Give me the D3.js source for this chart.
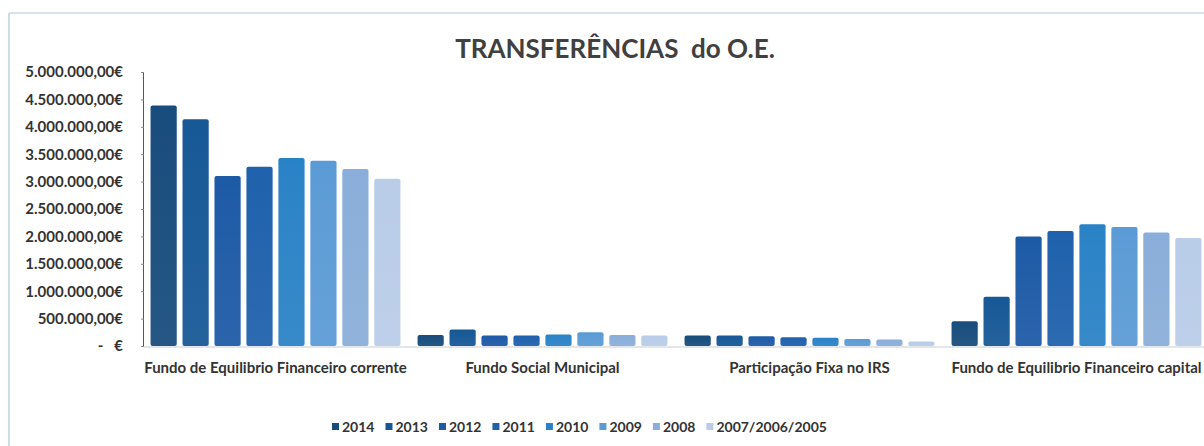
<!DOCTYPE html>
<html>
<head>
<meta charset="utf-8">
<script src="https://cdn.jsdelivr.net/npm/d3@7"></script>
<style>
  body { margin: 0; background: #fff; }
  svg { display: block; font-family: Lato, "Open Sans", sans-serif; }
</style>
</head>
<body>
<svg id="chart"></svg>
<script>
// categorie e serie (valori in euro)
const categories = [
    "Fundo de Equilibrio Financeiro corrente",
    "Fundo Social Municipal",
    "Participação Fixa no IRS",
    "Fundo de Equilibrio Financeiro capital"
];
const years = ["2014", "2013", "2012", "2011", "2010", "2009", "2008", "2007/2006/2005"];

const s2014 = [4390000, 200000, 190000, 450000];
const s2013 = [4140000, 300000, 190000, 900000];
const s2012 = [3100000, 190000, 180000, 2000000];
const s2011 = [3270000, 190000, 160000, 2100000];
const s2010 = [3430000, 210000, 150000, 2220000];
const s2009 = [3380000, 250000, 130000, 2170000];
const s2008 = [3230000, 200000, 120000, 2070000];
const s2007 = [3050000, 190000, 80000, 1970000];
const seriesValues = [s2014, s2013, s2012, s2011, s2010, s2009, s2008, s2007];

const yTicks = [0, 500000, 1000000, 1500000, 2000000, 2500000, 3000000, 3500000, 4000000, 4500000, 5000000];
const barColors = ["#184c7c", "#165896", "#1d5aa6", "#1f61ac", "#2a82c6", "#5b9bd5", "#8aaed9", "#b9cce8"];

const width = 1204, height = 446;
const svg = d3.select("#chart").attr("width", width).attr("height", height);

// cornice leggera
svg.append("line").attr("x1", 9).attr("x2", 9).attr("y1", 13).attr("y2", height)
    .attr("stroke", "#c9dcea").attr("stroke-width", 2);
svg.append("line").attr("x1", 9).attr("x2", width).attr("y1", 13).attr("y2", 13)
    .attr("stroke", "#d3e3ee").attr("stroke-width", 2);

const x0 = d3.scaleBand().domain(categories).range([142, 1210]).paddingInner(0.064).paddingOuter(0.032);
const x1 = d3.scaleBand().domain(years).range([0, x0.bandwidth()]).paddingInner(0.18);
const y = d3.scaleLinear().domain([0, 5000000]).range([346, 72]);

const euro = d3.formatLocale({ decimal: ",", thousands: ".", grouping: [3], currency: ["", "€"] });
const fmt = euro.format(",.2f");

// gradienti delle barre
const defs = svg.append("defs");
barColors.forEach((c, i) => {
    const g = defs.append("linearGradient").attr("id", "grad" + i)
        .attr("x1", 0).attr("x2", 0).attr("y1", 0).attr("y2", 1);
    g.append("stop").attr("offset", "0%").attr("stop-color", c);
    g.append("stop").attr("offset", "100%").attr("stop-color", d3.interpolateRgb(c, "#ffffff")(0.06));
});

// linea base
svg.append("line").attr("x1", 144).attr("x2", width).attr("y1", y(0) + 1).attr("y2", y(0) + 1)
    .attr("stroke", "#d8dde2").attr("stroke-width", 1.5);

// barre
const groups = svg.append("g").selectAll("g")
    .data(categories)
    .join("g")
    .attr("transform", d => `translate(${x0(d)},0)`);

groups.selectAll("rect")
    .data((cat, ci) => years.map((yr, si) => ({ year: yr, si: si, value: seriesValues[si][ci] })))
    .join("rect")
    .attr("x", d => x1(d.year))
    .attr("y", d => y(d.value))
    .attr("width", x1.bandwidth())
    .attr("height", d => y(0) - y(d.value))
    .attr("rx", 2)
    .attr("fill", d => `url(#grad${d.si})`);

// asse Y
const gY = svg.append("g").attr("transform", "translate(144,0)")
    .call(d3.axisLeft(y).tickValues(yTicks).tickSize(3).tickPadding(18)
        .tickFormat(d => d === 0 ? "-   €" : fmt(d) + "€"));
gY.select(".domain").attr("stroke", "#555").attr("d", `M-0.5,${y(5000000)}V${y(0)}`);
gY.selectAll(".tick line").attr("stroke", "#888");
gY.selectAll("text")
    .attr("fill", "#333")
    .style("font-family", "Lato, sans-serif")
    .style("font-weight", "bold")
    .style("font-size", "15px")
    .style("white-space", "pre");

// etichette categorie
const catLabels = svg.append("g").selectAll("text")
    .data(categories)
    .join("text")
    .attr("x", d => x0(d) + x0.bandwidth() / 2)
    .attr("y", 373)
    .attr("text-anchor", "middle")
    .attr("fill", "#333")
    .style("font-weight", "bold")
    .style("font-size", "15px")
    .text(d => d);
// come Excel: l'ultima etichetta resta dentro il grafico
catLabels.each(function(d) {
    const w = this.getComputedTextLength();
    const cx = +this.getAttribute("x");
    if (cx + w / 2 > width - 2) d3.select(this).attr("x", width - 2 - w / 2);
});

// titolo
svg.append("text")
    .attr("x", 615).attr("y", 58)
    .attr("text-anchor", "middle")
    .attr("fill", "#404040")
    .style("font-weight", "bold")
    .style("font-size", "26px")
    .text("TRANSFERÊNCIAS  do O.E.")
    .style("white-space", "pre");

// legenda
const legend = svg.append("g");
const items = legend.selectAll("g").data(years).join("g");
items.append("rect").attr("width", 7).attr("height", 7).attr("y", -4)
    .attr("fill", (d, i) => barColors[i]);
items.append("text").attr("x", 10).attr("y", 0).attr("dy", "0.35em")
    .attr("fill", "#333")
    .style("font-weight", "bold")
    .style("font-size", "14px")
    .text(d => d);
let lx = 0;
items.each(function() {
    d3.select(this).attr("transform", `translate(${lx},0)`);
    lx += this.getBBox().width + 11;
});
legend.attr("transform", `translate(332,427)`);
</script>
</body>
</html>
